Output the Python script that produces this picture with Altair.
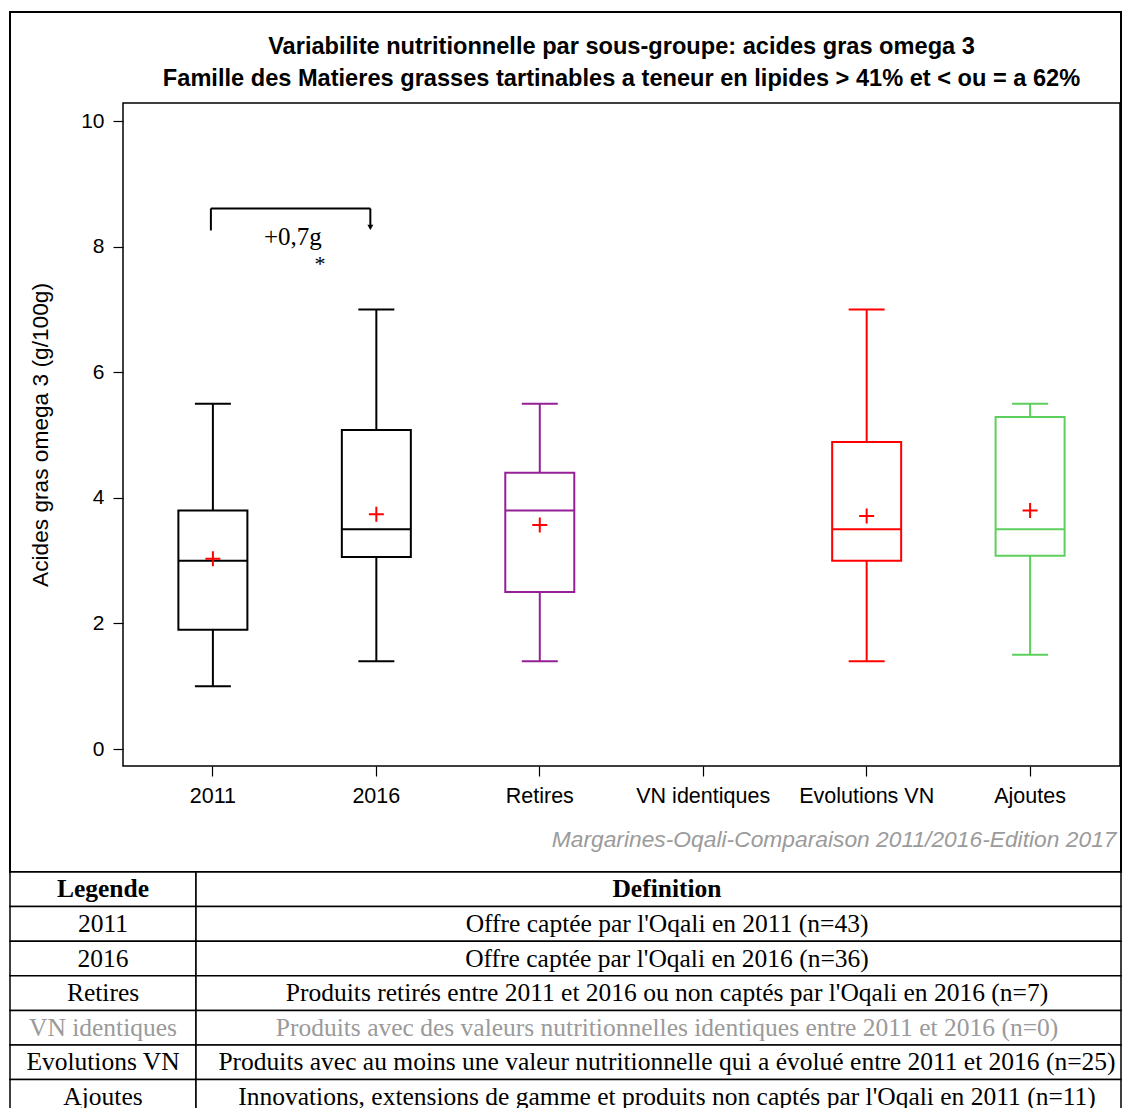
import altair as alt
import pandas as pd

# ---------------- data ----------------
categories = ["2011", "2016", "Retires", "VN identiques", "Evolutions VN", "Ajoutes"]
box_categories = ["2011", "2016", "Retires", "Evolutions VN", "Ajoutes"]
whisker_low = [1.0, 1.4, 1.4, 1.4, 1.5]
quartile_1 = [1.9, 3.06, 2.5, 3.0, 3.08]
medians = [3.0, 3.5, 3.8, 3.5, 3.5]
quartile_3 = [3.8, 5.08, 4.4, 4.89, 5.29]
whisker_high = [5.5, 7.0, 5.5, 7.0, 5.5]
means = [3.03, 3.74, 3.57, 3.71, 3.8]
box_colors = ["#000000", "#000000", "#952095", "#ff0000", "#5ccf5c"]

y_ticks = [0, 2, 4, 6, 8, 10]
y_domain = [-0.27, 10.29]

annotation_from = "2011"
annotation_to = "2016"
annotation_level = 8.61
annotation_left_end = 8.26
annotation_right_end = 8.34
annotation_arrow_tip = 8.31
annotation_text = "+0,7g"
annotation_text_y = 8.15
annotation_star = "*"
annotation_star_y = 7.72

title_lines = [
    "Variabilite nutritionnelle par sous-groupe: acides gras omega 3",
    "Famille des Matieres grasses tartinables a teneur en lipides > 41% et < ou = a 62%",
]
y_title = "Acides gras omega 3 (g/100g)"
source_note = "Margarines-Oqali-Comparaison 2011/2016-Edition 2017"

table_header = ["Legende", "Definition"]
table_legends = categories
table_definitions = [
    "Offre captée par l'Oqali en 2011 (n=43)",
    "Offre captée par l'Oqali en 2016 (n=36)",
    "Produits retirés entre 2011 et 2016 ou non captés par l'Oqali en 2016 (n=7)",
    "Produits avec des valeurs nutritionnelles identiques entre 2011 et 2016 (n=0)",
    "Produits avec au moins une valeur nutritionnelle qui a évolué entre 2011 et 2016 (n=25)",
    "Innovations, extensions de gamme et produits non captés par l'Oqali en 2011 (n=11)",
]
table_muted = [False, False, False, True, False, False]

# ---------------- layout / style ----------------
SANS = "Liberation Sans"
SERIF = "Liberation Serif"
PLOT_W, PLOT_H = 997, 663
FRAME_LEFT = 113      # frame left edge, left of plot area
FRAME_TOP = 91        # frame top edge, above plot area
FRAME_W = 1111
TABLE_GAP = 106
TABLE_W = 1111
LEFT_COL_W = 186
RIGHT_TEXT_CENTER = 657
ROW_H = 34.6
N_ROWS = len(table_legends) + 1
TABLE_H = ROW_H * N_ROWS
TABLE_FONT = 25.5

# ---------------- plot ----------------
box_df = pd.DataFrame({
    "cat": box_categories, "lo": whisker_low, "q1": quartile_1, "med": medians,
    "q3": quartile_3, "hi": whisker_high, "mean": means,
})

X_AXIS = alt.Axis(
    title=source_note, labelAngle=0, labelFont=SANS, labelFontSize=21.5, labelColor="black",
    labelPadding=9, tickSize=10, tickColor="black", tickWidth=1.2, domain=False,
    titleFont=SANS, titleFontSize=22.8, titleFontStyle="italic", titleFontWeight="normal",
    titleColor="#9b9b9b", titleX=993, titleY=73, titleAlign="right", titleBaseline="middle",
    titleAnchor="end",
)
X_SCALE = alt.Scale(domain=categories, paddingInner=0, paddingOuter=0.05)
Y_AXIS = alt.Axis(
    title=y_title, values=y_ticks, grid=False, domain=False, tickSize=10, tickColor="black",
    tickWidth=1.2, labelFont=SANS, labelFontSize=21, labelColor="black", labelPadding=9,
    titleFont=SANS, titleFontSize=22.7, titleFontWeight="normal", titleColor="black",
    titlePadding=28,
)
Y_SCALE = alt.Scale(domain=y_domain, nice=False, zero=False)


def xenc(field="cat"):
    return alt.X(f"{field}:N", scale=X_SCALE, axis=X_AXIS)


def yenc(field):
    return alt.Y(f"{field}:Q", scale=Y_SCALE, axis=Y_AXIS)


COLOR = alt.Color("cat:N", scale=alt.Scale(domain=box_categories, range=box_colors), legend=None)
STROKE = alt.Stroke("cat:N", scale=alt.Scale(domain=box_categories, range=box_colors), legend=None)

base = alt.Chart(box_df)
whisk_lo = base.mark_rule(strokeWidth=2).encode(x=xenc(), y=yenc("lo"), y2="q1:Q", color=COLOR)
whisk_hi = base.mark_rule(strokeWidth=2).encode(x=xenc(), y=yenc("q3"), y2="hi:Q", color=COLOR)
boxes = base.mark_bar(size=69, fill="white", strokeWidth=2).encode(
    x=xenc(), y=yenc("q1"), y2="q3:Q", stroke=STROKE)
med = base.mark_tick(size=69, thickness=2, opacity=1).encode(x=xenc(), y=yenc("med"), color=COLOR)
cap_lo = base.mark_tick(size=36, thickness=2, opacity=1).encode(x=xenc(), y=yenc("lo"), color=COLOR)
cap_hi = base.mark_tick(size=36, thickness=2, opacity=1).encode(x=xenc(), y=yenc("hi"), color=COLOR)
mean_pt = base.mark_point(shape="M-1,0H1M0,-1V1", size=225, strokeWidth=2, color="#ff0000",
                          filled=False, opacity=1).encode(x=xenc(), y=yenc("mean"))

ann_left = pd.DataFrame({"cat": [annotation_from], "top": [annotation_level],
                         "bottom": [annotation_left_end]})
ann_right = pd.DataFrame({"cat": [annotation_to], "top": [annotation_level],
                          "bottom": [annotation_right_end], "tip": [annotation_arrow_tip]})
ann_h = pd.DataFrame({"cat": [annotation_from], "cat2": [annotation_to], "level": [annotation_level]})
ann_txt = pd.DataFrame({"cat": [annotation_from], "y": [annotation_text_y], "t": [annotation_text]})
ann_star = pd.DataFrame({"cat": [annotation_from], "y": [annotation_star_y], "t": [annotation_star]})

bracket_l = alt.Chart(ann_left).mark_rule(strokeWidth=2, color="black", xOffset=-2).encode(
    x=xenc(), y=yenc("top"), y2="bottom:Q")
bracket_r = alt.Chart(ann_right).mark_rule(strokeWidth=2, color="black", xOffset=-6).encode(
    x=xenc(), y=yenc("top"), y2="bottom:Q")
bracket_h = alt.Chart(ann_h).mark_rule(strokeWidth=2, color="black", xOffset=-2, x2Offset=-6).encode(
    x=xenc(), x2="cat2:N", y=yenc("level"))
arrow = alt.Chart(ann_right).mark_point(shape="triangle-down", filled=True, size=36, xOffset=-6,
                                        color="black", opacity=1).encode(x=xenc(), y=yenc("tip"))
txt = alt.Chart(ann_txt).mark_text(font=SERIF, fontSize=25, dx=80, color="black").encode(
    x=xenc(), y=yenc("y"), text="t:N")
star = alt.Chart(ann_star).mark_text(font=SERIF, fontSize=22, dx=107, color="black").encode(
    x=xenc(), y=yenc("y"), text="t:N")

top = alt.layer(
    whisk_lo, whisk_hi, boxes, med, cap_lo, cap_hi, mean_pt,
    bracket_l, bracket_r, bracket_h, arrow, txt, star,
).properties(
    width=PLOT_W, height=PLOT_H,
    title=alt.Title(title_lines, font=SANS, fontSize=23.6, fontWeight="bold", color="black",
                    lineHeight=32, offset=12, anchor="middle"),
    view=alt.ViewBackground(stroke="black", strokeWidth=1.5),
)

# ---------------- table ----------------
row_ids = [f"r{i}" for i in range(N_ROWS)]
left_texts = [table_header[0]] + table_legends
right_texts = [table_header[1]] + table_definitions
row_colors = ["black"] + ["#9a9a9a" if m else "black" for m in table_muted]
text_df = pd.DataFrame({
    "row": row_ids, "left": left_texts, "right": right_texts, "color": row_colors,
    "lx": [LEFT_COL_W / 2] * N_ROWS, "rx": [RIGHT_TEXT_CENTER] * N_ROWS,
})
cells_df = pd.DataFrame({
    "row": row_ids * 2,
    "x0": [0] * N_ROWS + [LEFT_COL_W] * N_ROWS,
    "x1": [LEFT_COL_W] * N_ROWS + [TABLE_W] * N_ROWS,
})
frame_df = pd.DataFrame({"x0": [0], "x1": [FRAME_W]})

TX_SCALE = alt.Scale(domain=[0, TABLE_W], range=[-FRAME_LEFT, TABLE_W - FRAME_LEFT], nice=False, zero=False)
TY = alt.Y("row:N", scale=alt.Scale(domain=row_ids, paddingInner=0, paddingOuter=0), axis=None)

frame = alt.Chart(frame_df).mark_rect(fill="white", fillOpacity=0, stroke="black", strokeWidth=2).encode(
    x=alt.X("x0:Q", scale=TX_SCALE, axis=None), x2="x1:Q",
    y=alt.value(-(FRAME_TOP + PLOT_H + TABLE_GAP)), y2=alt.value(0))
cells = alt.Chart(cells_df).mark_rect(fill="white", stroke="black", strokeWidth=1.5).encode(
    x=alt.X("x0:Q", scale=TX_SCALE, axis=None), x2="x1:Q", y=TY)

head_df = text_df[text_df["row"] == row_ids[0]]
body_df = text_df[text_df["row"] != row_ids[0]]
TCOLOR = alt.Color("color:N", scale=None)

head_l = alt.Chart(head_df).mark_text(font=SERIF, fontSize=TABLE_FONT, fontWeight="bold").encode(
    x=alt.X("lx:Q", scale=TX_SCALE, axis=None), y=TY, text="left:N", color=TCOLOR)
head_r = alt.Chart(head_df).mark_text(font=SERIF, fontSize=TABLE_FONT, fontWeight="bold").encode(
    x=alt.X("rx:Q", scale=TX_SCALE, axis=None), y=TY, text="right:N", color=TCOLOR)
body_l = alt.Chart(body_df).mark_text(font=SERIF, fontSize=TABLE_FONT).encode(
    x=alt.X("lx:Q", scale=TX_SCALE, axis=None), y=TY, text="left:N", color=TCOLOR)
body_r = alt.Chart(body_df).mark_text(font=SERIF, fontSize=TABLE_FONT).encode(
    x=alt.X("rx:Q", scale=TX_SCALE, axis=None), y=TY, text="right:N", color=TCOLOR)

table = alt.layer(frame, cells, head_l, head_r, body_l, body_r).properties(
    width=PLOT_W, height=TABLE_H,
    view=alt.ViewBackground(stroke="transparent", strokeWidth=0),
)

chart = alt.vconcat(top, table, spacing=TABLE_GAP, bounds="flush").properties(
    padding={"left": 1, "top": 3, "right": 0, "bottom": 0},
).configure(background="white")

chart.save("out.html", embed_options={"renderer": "svg", "actions": False})
